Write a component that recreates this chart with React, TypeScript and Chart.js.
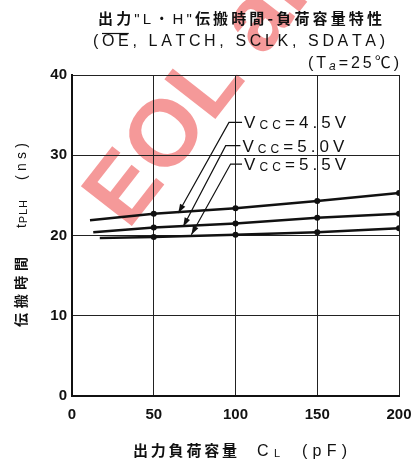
import React, { useEffect, useRef } from "react";
import { Chart, registerables } from "chart.js";

Chart.register(...registerables);

// ---- data ----
const X_TICKS = [0, 50, 100, 150, 200];
const Y_TICKS = [0, 10, 20, 30, 40];

const CL_45 = [11, 50, 100, 150, 200];
const TPLH_45 = [21.9, 22.7, 23.4, 24.3, 25.3];
const CL_50 = [13, 50, 100, 150, 200];
const TPLH_50 = [20.4, 21.0, 21.5, 22.2, 22.7];
const CL_55 = [17, 50, 100, 150, 200];
const TPLH_55 = [19.7, 19.8, 20.1, 20.4, 20.9];

const VCC_VALUES = ["4.5", "5.0", "5.5"];
// leader lines (data units): label anchor, knee, arrow tip
const LABEL_X = [104, 103, 104];
const LABEL_Y = [34.1, 31.2, 28.9];
const KNEE_X = [96, 94, 97];
const TIP_X = [65, 68, 73];
const TIP_Y = [22.8, 21.1, 20.1];

const LAT = '"Liberation Sans", "Noto Sans CJK JP", sans-serif';
const CJK = '"Noto Sans CJK JP", "Liberation Sans", sans-serif';

type Ch = { c: string; font: string; dy?: number };

function chars(s: string, font: string, dy = 0): Ch[] {
  return Array.from(s).map((c) => ({ c, font, dy }));
}

function drawChars(ctx: CanvasRenderingContext2D, list: Ch[], x0: number, x1: number, y: number) {
  const widths = list.map((ch) => {
    ctx.font = ch.font;
    return ctx.measureText(ch.c).width;
  });
  const total = widths.reduce((a, b) => a + b, 0);
  const gap = list.length > 1 ? (x1 - x0 - total) / (list.length - 1) : 0;
  let x = x0;
  const pos: number[][] = [];
  list.forEach((ch, i) => {
    ctx.font = ch.font;
    ctx.fillText(ch.c, x, y + (ch.dy || 0));
    pos.push([x, x + widths[i]]);
    x += widths[i] + gap;
  });
  return pos;
}

const watermarkPlugin = {
  id: "watermark",
  beforeDraw(chart: any) {
    const ctx = chart.ctx as CanvasRenderingContext2D;
    ctx.save();
    ctx.fillStyle = "#ffffff";
    ctx.fillRect(0, 0, chart.width, chart.height);
    ctx.translate(128, 231);
    ctx.rotate((-52 * Math.PI) / 180);
    ctx.font = `bold 94px ${LAT}`;
    ctx.fillStyle = "rgba(238, 85, 85, 0.6)";
    ctx.textBaseline = "alphabetic";
    ctx.fillText("EOL announced", 0, 0);
    ctx.restore();
  },
};

const annotPlugin = {
  id: "annot",
  afterDraw(chart: any) {
    const ctx = chart.ctx as CanvasRenderingContext2D;
    const xs = chart.scales.x;
    const ys = chart.scales.y;
    ctx.save();
    ctx.fillStyle = "#111";
    ctx.strokeStyle = "#111";
    ctx.textBaseline = "alphabetic";

    // Title line 1
    const f1 = `bold 15px ${CJK}`;
    const f1l = `15px ${LAT}`;
    drawChars(
      ctx,
      [
        ...chars("出力", f1),
        ...chars('"L・H"', f1l),
        ...chars("伝搬時間-負荷容量特性", f1),
      ],
      98,
      382,
      24
    );
    // Title line 2
    const f2 = `16px ${LAT}`;
    const p2 = drawChars(ctx, chars("(OE, LATCH, SCLK, SDATA)", f2), 93, 385, 46);
    ctx.lineWidth = 1.2;
    ctx.beginPath();
    ctx.moveTo(p2[1][0], 33.5);
    ctx.lineTo(p2[2][1], 33.5);
    ctx.stroke();
    // Title line 3
    drawChars(
      ctx,
      [
        ...chars("(T", `16px ${LAT}`),
        { c: "a", font: `italic 12px ${LAT}`, dy: 2 },
        ...chars("=25℃)", `16px ${LAT}`),
      ],
      308,
      399,
      68
    );

    // Vcc labels and leader arrows
    for (let i = 0; i < VCC_VALUES.length; i++) {
      const lx = xs.getPixelForValue(LABEL_X[i]);
      const ly = ys.getPixelForValue(LABEL_Y[i]);
      const kx = xs.getPixelForValue(KNEE_X[i]);
      const tx = xs.getPixelForValue(TIP_X[i]);
      const ty = ys.getPixelForValue(TIP_Y[i]);
      ctx.lineWidth = 1.2;
      ctx.beginPath();
      ctx.moveTo(lx, ly);
      ctx.lineTo(kx, ly);
      ctx.lineTo(tx, ty);
      ctx.stroke();
      const ang = Math.atan2(ty - ly, tx - kx);
      const L = 9;
      const W = 3;
      ctx.beginPath();
      ctx.moveTo(tx, ty);
      ctx.lineTo(tx - L * Math.cos(ang) + W * Math.sin(ang), ty - L * Math.sin(ang) - W * Math.cos(ang));
      ctx.lineTo(tx - L * Math.cos(ang) - W * Math.sin(ang), ty - L * Math.sin(ang) + W * Math.cos(ang));
      ctx.closePath();
      ctx.fill();
      const fb = `17px ${LAT}`;
      drawChars(
        ctx,
        [
          { c: "V", font: fb },
          ...chars("CC", `12px ${LAT}`, 1),
          ...chars("=" + VCC_VALUES[i] + "V", fb),
        ],
        lx + 2,
        lx + 104,
        ly + 6
      );
    }

    // Y axis title (rotated)
    ctx.save();
    ctx.translate(26, 327);
    ctx.rotate(-Math.PI / 2);
    drawChars(ctx, chars("伝搬時間", `bold 14px ${CJK}`), 0, 70, 0);
    drawChars(
      ctx,
      [{ c: "t", font: `14px ${LAT}` }, ...chars("PLH", `11px ${LAT}`, 1)],
      99,
      127,
      0
    );
    drawChars(ctx, chars("(ns)", `14px ${LAT}`), 147, 184, 0);
    ctx.restore();

    // X axis title
    drawChars(ctx, chars("出力負荷容量", `bold 15px ${CJK}`), 133, 237, 456);
    drawChars(
      ctx,
      [{ c: "C", font: `16px ${LAT}` }, { c: "L", font: `11px ${LAT}`, dy: 1 }],
      257,
      280,
      456
    );
    drawChars(ctx, chars("(pF)", `16px ${LAT}`), 302, 347, 456);
    ctx.restore();
  },
};

function makePoints(xs: number[], ys: number[]) {
  return xs.map((x, i) => ({ x, y: ys[i] }));
}

export default function App() {
  const ref = useRef<HTMLCanvasElement | null>(null);
  useEffect(() => {
    if (!ref.current) return;
    const ds = (xs: number[], ys: number[], label: string) => ({
      label,
      data: makePoints(xs, ys),
      borderColor: "#111",
      backgroundColor: "#111",
      borderWidth: 2.5,
      pointRadius: xs.map((_, i) => (i === 0 ? 0 : 3)),
      pointBackgroundColor: "#111",
      pointBorderWidth: 0,
      tension: 0,
    });
    const chart = new Chart(ref.current, {
      type: "line",
      data: {
        datasets: [
          ds(CL_45, TPLH_45, "Vcc=4.5V"),
          ds(CL_50, TPLH_50, "Vcc=5.0V"),
          ds(CL_55, TPLH_55, "Vcc=5.5V"),
        ],
      },
      options: {
        responsive: false,
        animation: false,
        layout: { padding: { top: 75, right: 12, left: 0, bottom: 0 } },
        plugins: { legend: { display: false }, title: { display: false }, tooltip: { enabled: false } },
        scales: {
          x: {
            type: "linear",
            min: 0,
            max: 200,
            afterBuildTicks: (s: any) => {
              s.ticks = X_TICKS.map((v) => ({ value: v }));
            },
            afterFit: (s: any) => {
              s.height = 72;
              s.paddingLeft = 0;
              s.paddingRight = 0;
            },
            grid: { color: "#222", lineWidth: 1, drawTicks: false },
            border: { display: true, color: "#111", width: 2 },
            ticks: {
              padding: 10,
              color: "#111",
              font: { family: "Liberation Sans", size: 15, weight: "bold" },
              maxRotation: 0,
            },
          },
          y: {
            type: "linear",
            min: 0,
            max: 40,
            afterBuildTicks: (s: any) => {
              s.ticks = Y_TICKS.map((v) => ({ value: v }));
            },
            afterFit: (s: any) => {
              s.width = 72;
              s.paddingTop = 0;
              s.paddingBottom = 0;
            },
            grid: { color: "#222", lineWidth: 1, drawTicks: false },
            border: { display: true, color: "#111", width: 2 },
            ticks: {
              padding: 5,
              color: "#111",
              font: { family: "Liberation Sans", size: 15, weight: "bold" },
            },
          },
        },
      },
      plugins: [watermarkPlugin, annotPlugin],
    });
    return () => chart.destroy();
  }, []);
  return (
    <div style={{ position: "absolute", left: 0, top: 0, width: 411, height: 468 }}>
      <canvas ref={ref} width={411} height={468} style={{ display: "block" }} />
    </div>
  );
}
